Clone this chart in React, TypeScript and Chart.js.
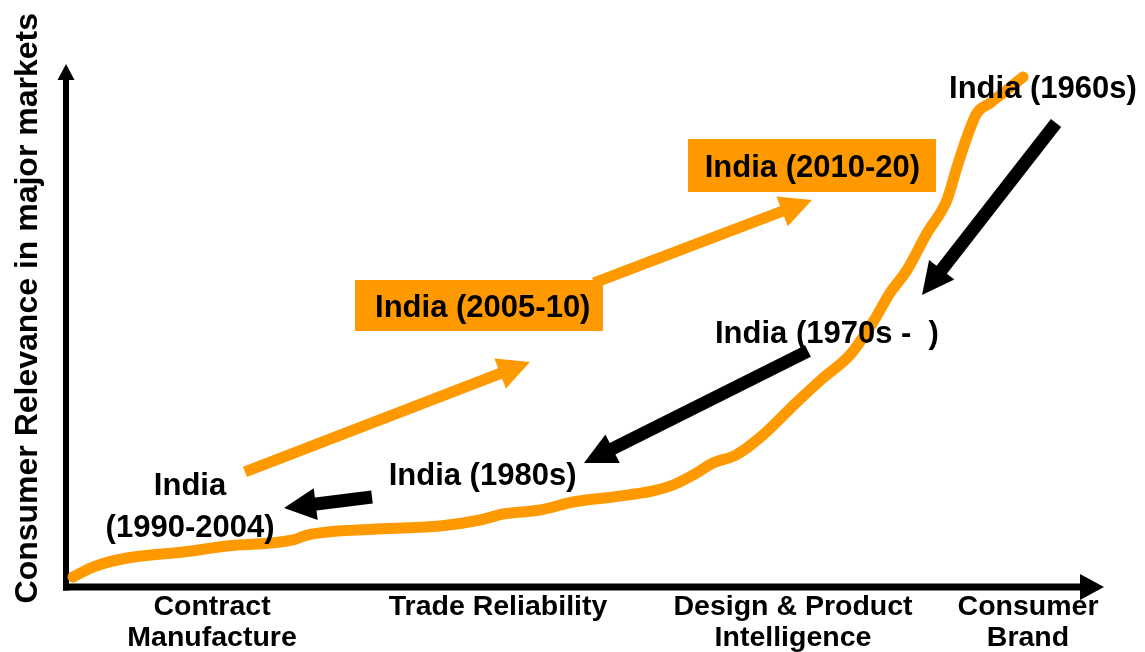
import { useEffect, useRef } from "react";
import { Chart, registerables } from "chart.js";

Chart.register(...registerables);

// ---- data (chart units: x = development stage 0..100, y = relevance 0..100) ----
const stageLabels: string[][] = [
  ["Contract", "Manufacture"],
  ["Trade Reliability"],
  ["Design & Product", "Intelligence"],
  ["Consumer", "Brand"],
];
const stagePositions = [14.07, 41.62, 70.04, 92.68];

const curveX = [0.67, 2.6, 5.88, 11.27, 15.51, 21.87, 23.22, 29.96, 36.03, 39.88, 42.1, 45.66, 48.84, 52.7, 56.55, 58.48, 60.4, 62.33, 64.55, 67.15, 70.42, 72.93, 75.53, 77.75, 79.38, 81.02, 82.95, 84.87, 85.84, 86.8, 87.76, 89.02, 90.27, 92.2];
const curveY = [1.91, 3.82, 5.54, 6.69, 7.84, 8.99, 9.94, 11.09, 11.66, 12.81, 13.96, 14.72, 16.25, 17.21, 18.36, 19.5, 21.41, 23.71, 25.24, 29.06, 35.37, 39.96, 44.36, 50.67, 56.21, 60.61, 67.69, 74.0, 80.31, 86.04, 90.63, 92.54, 94.46, 97.51];

const arrowTailX = [17.24, 50.87, 95.38, 71.48, 29.48];
const arrowTailY = [21.99, 58.13, 88.72, 45.12, 17.21];
const arrowTipX = [44.7, 71.87, 82.47, 49.9, 21.0];
const arrowTipY = [43.02, 74.0, 55.83, 23.71, 15.11];
const arrowKinds = ["orange", "orange", "black", "black", "black"];

const noteTexts = ["India (1960s)", "India (1970s -  )", "India (1980s)", "India (2005-10)", "India (2010-20)", "India", "(1990-2004)"];
const noteX = [94.12, 73.31, 40.13, 40.15, 71.91, 11.95, 11.95];
const noteY = [93.44, 46.56, 19.5, 51.68, 78.34, 17.59, 9.56];

const boxX0 = [27.84, 59.92];
const boxX1 = [51.73, 83.82];
const boxY0 = [48.95, 75.53];
const boxY1 = [58.7, 85.66];

const yTitle = "Consumer Relevance in major markets";
const yTitleCenter = 53.3;

const ORANGE = "#FF9900";
const FONT = '"Liberation Sans", Arial, Helvetica, sans-serif';

function drawHead(ctx: CanvasRenderingContext2D, tx: number, ty: number, ux: number, uy: number, len: number, half: number, color: string) {
  const bx = tx - ux * len;
  const by = ty - uy * len;
  const nx = -uy;
  const ny = ux;
  ctx.beginPath();
  ctx.moveTo(tx, ty);
  ctx.lineTo(bx + nx * half, by + ny * half);
  ctx.lineTo(bx - nx * half, by - ny * half);
  ctx.closePath();
  ctx.fillStyle = color;
  ctx.fill();
}

const axesPlugin = {
  id: "axesArrows",
  beforeDatasetsDraw(chart: any) {
    const ctx: CanvasRenderingContext2D = chart.ctx;
    const xs = chart.scales.x;
    const ys = chart.scales.y;
    const x0 = xs.getPixelForValue(0);
    const y0 = ys.getPixelForValue(0);
    const xEnd = xs.getPixelForValue(100);
    const yEnd = ys.getPixelForValue(100);
    ctx.save();
    ctx.strokeStyle = "#000";
    ctx.lineCap = "butt";
    // y axis
    ctx.lineWidth = 6;
    ctx.beginPath();
    ctx.moveTo(x0, y0 + 3.5);
    ctx.lineTo(x0, yEnd + 15);
    ctx.stroke();
    drawHead(ctx, x0, yEnd, 0, -1, 16, 8.5, "#000");
    // x axis
    ctx.lineWidth = 7;
    ctx.beginPath();
    ctx.moveTo(x0 - 3, y0);
    ctx.lineTo(xEnd - 23, y0);
    ctx.stroke();
    drawHead(ctx, xEnd, y0, 1, 0, 24, 13, "#000");
    ctx.restore();
  },
};

const arrowPlugin = {
  id: "arrowHeads",
  beforeDatasetDraw(chart: any, args: any) {
    const ds = chart.data.datasets[args.index];
    if (!ds.arrowHead) return;
    const pts = args.meta.data;
    const a = pts[0];
    const b = pts[pts.length - 1];
    const dx = b.x - a.x;
    const dy = b.y - a.y;
    const l = Math.hypot(dx, dy);
    const ux = dx / l;
    const uy = dy / l;
    const bx = b.x - ux * (ds.arrowHead.len - 3);
    const by = b.y - uy * (ds.arrowHead.len - 3);
    const nx = -uy;
    const ny = ux;
    const B = 4000;
    const ctx: CanvasRenderingContext2D = chart.ctx;
    ctx.save();
    ctx.beginPath();
    ctx.moveTo(bx + nx * B, by + ny * B);
    ctx.lineTo(bx - nx * B, by - ny * B);
    ctx.lineTo(bx - nx * B - ux * B, by - ny * B - uy * B);
    ctx.lineTo(bx + nx * B - ux * B, by + ny * B - uy * B);
    ctx.closePath();
    ctx.clip();
  },
  afterDatasetDraw(chart: any, args: any) {
    const ds = chart.data.datasets[args.index];
    if (!ds.arrowHead) return;
    const ctx: CanvasRenderingContext2D = chart.ctx;
    ctx.restore();
    const pts = args.meta.data;
    const a = pts[0];
    const b = pts[pts.length - 1];
    const dx = b.x - a.x;
    const dy = b.y - a.y;
    const l = Math.hypot(dx, dy);
    ctx.save();
    drawHead(ctx, b.x, b.y, dx / l, dy / l, ds.arrowHead.len, ds.arrowHead.half, ds.borderColor);
    ctx.restore();
  },
};

const textPlugin = {
  id: "texts",
  afterDatasetsDraw(chart: any) {
    const ctx: CanvasRenderingContext2D = chart.ctx;
    const xs = chart.scales.x;
    const ys = chart.scales.y;
    const area = chart.chartArea;
    ctx.save();
    // orange boxes
    ctx.fillStyle = ORANGE;
    for (let i = 0; i < boxX0.length; i++) {
      const l = xs.getPixelForValue(boxX0[i]);
      const r = xs.getPixelForValue(boxX1[i]);
      const t = ys.getPixelForValue(boxY1[i]);
      const b = ys.getPixelForValue(boxY0[i]);
      ctx.fillRect(l, t, r - l, b - t);
    }
    // annotations
    ctx.fillStyle = "#000";
    ctx.textAlign = "center";
    ctx.textBaseline = "alphabetic";
    ctx.font = `bold 31px ${FONT}`;
    for (let i = 0; i < noteTexts.length; i++) {
      ctx.fillText(noteTexts[i], xs.getPixelForValue(noteX[i]), ys.getPixelForValue(noteY[i]));
    }
    // stage labels below x axis
    ctx.font = `bold 28.5px ${FONT}`;
    for (let i = 0; i < stageLabels.length; i++) {
      const px = xs.getPixelForValue(stagePositions[i]);
      stageLabels[i].forEach((line, j) => {
        ctx.fillText(line, px, area.bottom + 28 + j * 31);
      });
    }
    // y title
    ctx.save();
    ctx.translate(area.left - 29, ys.getPixelForValue(yTitleCenter));
    ctx.rotate(-Math.PI / 2);
    ctx.font = `bold 32px ${FONT}`;
    ctx.fillText(yTitle, 0, 0);
    ctx.restore();
    ctx.restore();
  },
};

export default function App() {
  const ref = useRef<HTMLCanvasElement | null>(null);
  useEffect(() => {
    if (!ref.current) return;
    const datasets: any[] = [
      {
        label: "Path",
        data: curveX.map((x, i) => ({ x, y: curveY[i] })),
        borderColor: ORANGE,
        borderWidth: 11,
        pointRadius: 0,
        cubicInterpolationMode: "monotone",
        borderCapStyle: "round",
        borderJoinStyle: "round",
        clip: false,
        order: 2,
      },
    ];
    arrowTailX.forEach((tx, i) => {
      const black = arrowKinds[i] === "black";
      datasets.push({
        label: "arrow" + i,
        data: [
          { x: tx, y: arrowTailY[i] },
          { x: arrowTipX[i], y: arrowTipY[i] },
        ],
        borderColor: black ? "#000000" : ORANGE,
        borderWidth: black ? 13 : 11,
        borderCapStyle: "butt",
        pointRadius: 0,
        clip: false,
        arrowHead: { len: 32, half: 16 },
        order: 1,
      });
    });
    const chart = new Chart(ref.current, {
      type: "line",
      data: { datasets },
      options: {
        animation: false,
        responsive: false,
        devicePixelRatio: 1,
        layout: { padding: { left: 66, right: 41, top: 64, bottom: 65 } },
        scales: {
          x: { type: "linear", min: 0, max: 100, display: false },
          y: { type: "linear", min: 0, max: 100, display: false },
        },
        plugins: { legend: { display: false }, tooltip: { enabled: false } },
        events: [],
      },
      plugins: [axesPlugin, arrowPlugin, textPlugin],
    } as any);
    return () => chart.destroy();
  }, []);
  return (
    <canvas
      ref={ref}
      width={1145}
      height={652}
      style={{ position: "fixed", left: 0, top: 0, width: 1145, height: 652, background: "#fff" }}
    />
  );
}
